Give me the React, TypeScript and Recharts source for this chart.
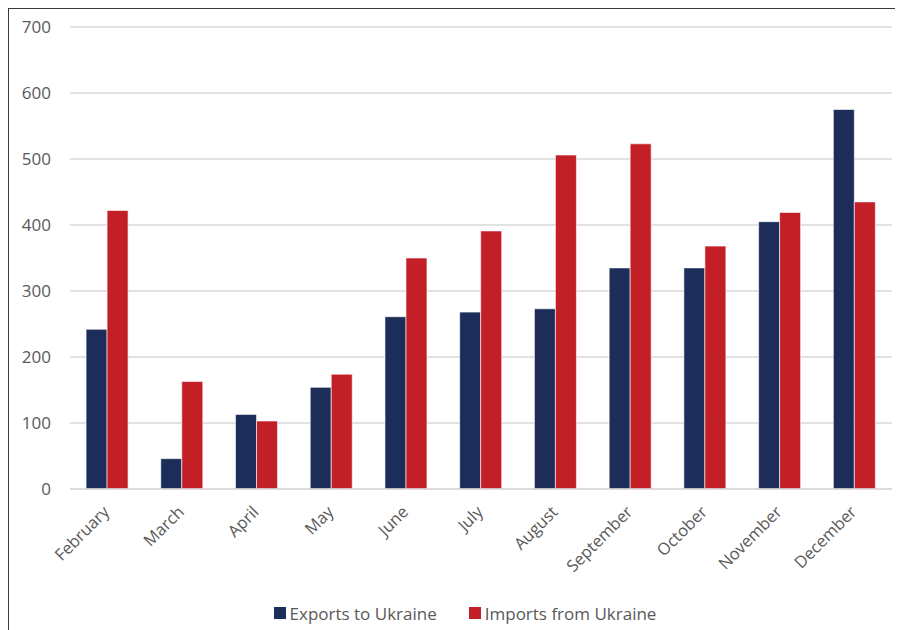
import { Bar, BarChart, CartesianGrid, Legend, XAxis, YAxis } from "recharts";

const months = [
  "February",
  "March",
  "April",
  "May",
  "June",
  "July",
  "August",
  "September",
  "October",
  "November",
  "December",
];
const exportsToUkraine = [242, 46, 113, 154, 261, 268, 273, 335, 335, 405, 575];
const importsFromUkraine = [422, 163, 103, 174, 350, 391, 506, 523, 368, 419, 435];
const yTicks = [0, 100, 200, 300, 400, 500, 600, 700];

const series = [
  { key: "exports", name: "Exports to Ukraine", color: "#1d2d59" },
  { key: "imports", name: "Imports from Ukraine", color: "#c31f26" },
];

const data = months.map((month, i) => ({
  month,
  exports: exportsToUkraine[i],
  imports: importsFromUkraine[i],
}));

const FONT = "'Open Sans', sans-serif";
const TEXT = "#595959";

// month names slanted 45° and anchored at their end under each category
function MonthTick({ x, y, payload }: any) {
  const tx = x + 3;
  const ty = y + 16;
  return (
    <text
      x={tx}
      y={ty}
      transform={`rotate(-45, ${tx}, ${ty})`}
      textAnchor="end"
      fill={TEXT}
      fontSize={16.5}
      fontFamily={FONT}
    >
      {payload.value}
    </text>
  );
}

function LegendRow() {
  return (
    <div
      style={{
        display: "flex",
        justifyContent: "center",
        alignItems: "center",
        gap: 32,
        paddingLeft: 18,
        height: 20,
        fontSize: 17,
        fontFamily: FONT,
        color: TEXT,
      }}
    >
      {series.map((s) => (
        <span key={s.key} style={{ display: "flex", alignItems: "center" }}>
          <span
            style={{
              width: 12,
              height: 12,
              background: s.color,
              marginRight: 4,
              display: "inline-block",
            }}
          />
          {s.name}
        </span>
      ))}
    </div>
  );
}

export default function App() {
  return (
    <div
      style={{
        width: 894,
        height: 621,
        borderLeft: "1px solid #3a3a3a",
        borderTop: "1px solid #3a3a3a",
        fontFamily: FONT,
      }}
    >
      <BarChart
        width={894}
        height={621}
        data={data}
        margin={{ top: 18, right: 11, bottom: 21, left: 0 }}
        barCategoryGap="21.5%"
        barGap={0}
      >
        <CartesianGrid vertical={false} stroke="#d9d9d9" strokeWidth={1.5} />
        <XAxis
          dataKey="month"
          height={100}
          interval={0}
          tickLine={false}
          axisLine={{ stroke: "#d9d9d9", strokeWidth: 1.5 }}
          tick={<MonthTick />}
        />
        <YAxis
          width={61}
          domain={[0, 700]}
          ticks={yTicks}
          tickLine={false}
          axisLine={false}
          tickMargin={13}
          tick={{ fill: TEXT, fontSize: 17, fontFamily: FONT }}
        />
        <Legend
          content={<LegendRow />}
          wrapperStyle={{ top: 594, left: 0, width: 894, height: 20 }}
        />
        {series.map((s) => (
          <Bar
            key={s.key}
            dataKey={s.key}
            name={s.name}
            fill={s.color}
            stroke="#ffffff"
            strokeWidth={0.6}
            isAnimationActive={false}
          />
        ))}
      </BarChart>
    </div>
  );
}
